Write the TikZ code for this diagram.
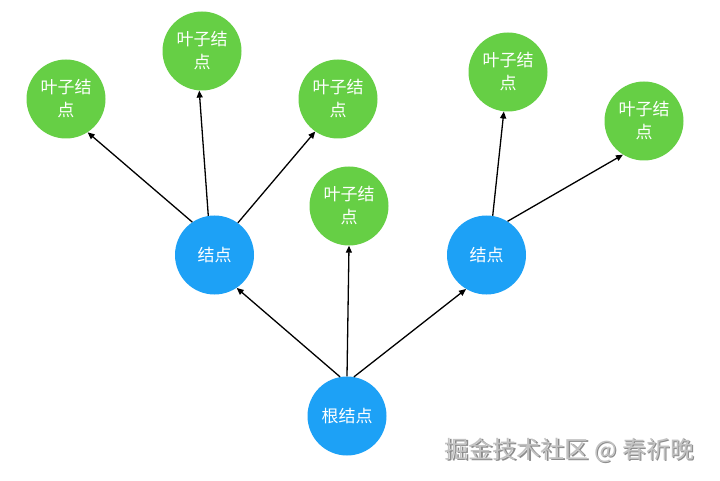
\documentclass[tikz,border=0pt]{standalone}
\usepackage{fontspec}
\setmainfont{Noto Sans CJK SC}
\usetikzlibrary{arrows.meta}
\definecolor{nodeblue}{HTML}{1DA1F6}
\definecolor{leafgreen}{HTML}{66CF45}
\definecolor{wmgray}{HTML}{9A9A9A}
\tikzset{
  x=1pt,y=-1pt,
  base/.style={circle,minimum size=79pt,inner sep=0pt,text=white,font=\fontsize{17}{23}\selectfont,align=center},
  bluenode/.style={base,fill=nodeblue},
  leafnode/.style={base,fill=leafgreen},
  conn/.style={line width=1.3pt,draw=black,-{Triangle[length=7pt,width=6pt]}}
}
\begin{document}
\begin{tikzpicture}
\useasboundingbox[fill=white] (0,0) rectangle (720,481);
\node[bluenode] (root) at (347,416) {根结点};
\node[bluenode] (lm) at (214.5,255) {结点};
\node[bluenode] (rm) at (486.5,255) {结点};
\node[leafnode] (l1) at (66,99) {叶子结\\点};
\node[leafnode] (l2) at (202,51) {叶子结\\点};
\node[leafnode] (l3) at (338,99) {叶子结\\点};
\node[leafnode] (l4) at (349,206) {叶子结\\点};
\node[leafnode] (l5) at (508,72) {叶子结\\点};
\node[leafnode] (l6) at (644,121) {叶子结\\点};
\draw[conn] (root.100) -- (lm.-56);
\draw[conn] (root.90) -- (l4.-90);
\draw[conn] (root.80) -- (rm.-121);
\draw[conn] (lm.124) -- (l1.-57);
\draw[conn] (lm.99) -- (l2.-94);
\draw[conn] (lm.54) -- (l3.-125);
\draw[conn] (rm.81) -- (l5.-96);
\draw[conn] (rm.58) -- (l6.-122);
\node[anchor=west,inner sep=0pt,text=black!45,font=\fontsize{24}{26}\selectfont] (wms) at (445.8,451.2) {掘金技术社区 @ 春祈晚};
\node[anchor=west,inner sep=0pt,text=wmgray!60,font=\fontsize{24}{26}\selectfont] (wm) at (444.6,450) {掘金技术社区 @ 春祈晚};
\end{tikzpicture}
\end{document}
